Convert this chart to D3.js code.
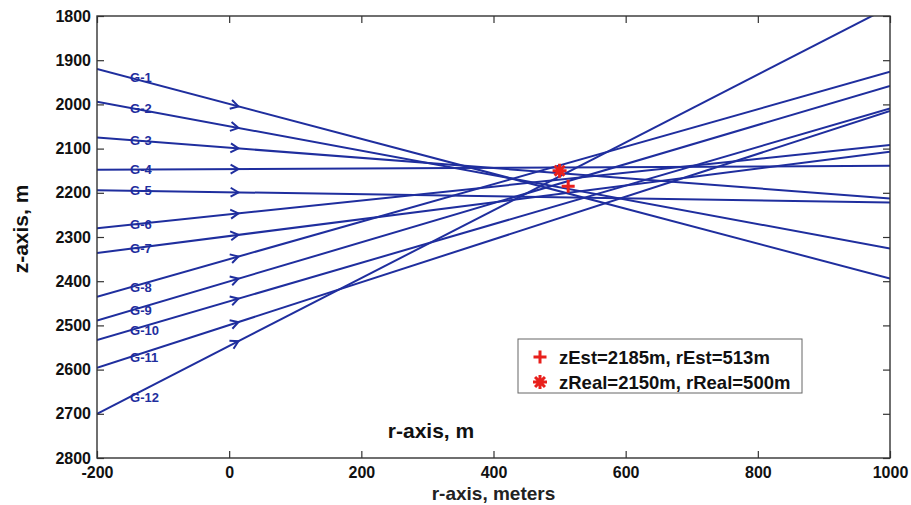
<!DOCTYPE html>
<html>
<head>
<meta charset="utf-8">
<script src="https://cdn.jsdelivr.net/npm/d3@7"></script>
<style>
  body { margin: 0; background: #fff; }
  text { font-family: Arial, "Liberation Sans", sans-serif; }
</style>
</head>
<body>
<svg id="chart" width="911" height="505"></svg>
<script>
"use strict";

// plot box in pixels
const boxLeft = 97, boxRight = 890, boxTop = 16, boxBottom = 458;

// ray data, z (m) where each ray enters at r=-200 and leaves at r=1000
const groupLabels = ["G-1", "G-2", "G-3", "G-4", "G-5", "G-6", "G-7", "G-8", "G-9", "G-10", "G-11", "G-12"];
const zAtStart = [1920, 1994, 2075, 2148, 2194, 2280, 2336, 2435, 2489, 2533, 2596, 2700];
const zAtEnd = [2394, 2326, 2213, 2139, 2222, 2092, 2107, 1926, 1958, 2009, 2015, 1779];
const rStart = -200, rEnd = 1000;
const rLabel = -150;   // where the G-n labels sit
const rArrow = 14;     // arrow tip position

const rTicks = [-200, 0, 200, 400, 600, 800, 1000];
const zTicks = [1800, 1900, 2000, 2100, 2200, 2300, 2400, 2500, 2600, 2700, 2800];

const estPoint = { r: 513, z: 2185 };
const realPoint = { r: 500, z: 2150 };
const legendLabels = ["zEst=2185m, rEst=513m", "zReal=2150m, rReal=500m"];

const blue = "#1f2e9e";
const red = "#e8201c";

const svg = d3.select("#chart");

const xScale = d3.scaleLinear().domain([-200, 1000]).range([boxLeft, boxRight]);
const yScale = d3.scaleLinear().domain([1800, 2800]).range([boxTop, boxBottom]);

svg.append("defs").append("clipPath").attr("id", "plotClip")
    .append("rect")
    .attr("x", boxLeft).attr("y", boxTop)
    .attr("width", boxRight - boxLeft).attr("height", boxBottom - boxTop);

const rays = groupLabels.map((g, i) => ({ label: g, z0: zAtStart[i], z1: zAtEnd[i] }));
function zAt(ray, r) {
    return ray.z0 + (ray.z1 - ray.z0) * (r - rStart) / (rEnd - rStart);
}

const plot = svg.append("g").attr("clip-path", "url(#plotClip)");
const line = d3.line();

plot.selectAll("path.ray")
    .data(rays)
    .join("path")
    .attr("class", "ray")
    .attr("d", d => line([[xScale(rStart), yScale(d.z0)], [xScale(rEnd), yScale(d.z1)]]))
    .attr("fill", "none")
    .attr("stroke", blue)
    .attr("stroke-width", 2);

// little open arrow heads near r=0
plot.selectAll("path.arrow")
    .data(rays)
    .join("path")
    .attr("class", "arrow")
    .attr("d", d => {
        let ang = Math.atan2(yScale(d.z1) - yScale(d.z0), xScale(rEnd) - xScale(rStart));
        let tx = xScale(rArrow), ty = yScale(zAt(d, rArrow));
        let len = 9, spread = Math.PI / 6;
        let a = [tx - len * Math.cos(ang - spread), ty - len * Math.sin(ang - spread)];
        let b = [tx - len * Math.cos(ang + spread), ty - len * Math.sin(ang + spread)];
        return line([a, [tx, ty], b]);
    })
    .attr("fill", "none")
    .attr("stroke", blue)
    .attr("stroke-width", 2);

plot.selectAll("text.glabel")
    .data(rays)
    .join("text")
    .attr("class", "glabel")
    .attr("x", xScale(rLabel))
    .attr("y", d => yScale(zAt(d, rLabel)))
    .attr("dy", "0.36em")
    .attr("fill", blue)
    .attr("font-size", 13)
    .attr("font-weight", "bold")
    .text(d => d.label);

// markers
function plusPath(cx, cy, s) {
    return `M${cx - s},${cy}L${cx + s},${cy}M${cx},${cy - s}L${cx},${cy + s}`;
}
function starPath(cx, cy, s) {
    let p = "";
    for (let k = 0; k < 4; k++) {
        let a = k * Math.PI / 4;
        p += `M${cx - s * Math.cos(a)},${cy - s * Math.sin(a)}L${cx + s * Math.cos(a)},${cy + s * Math.sin(a)}`;
    }
    return p;
}

svg.append("path")
    .attr("d", plusPath(xScale(estPoint.r), yScale(estPoint.z), 6.5))
    .attr("stroke", red).attr("stroke-width", 3).attr("fill", "none");
svg.append("path")
    .attr("d", starPath(xScale(realPoint.r), yScale(realPoint.z), 7))
    .attr("stroke", red).attr("stroke-width", 3).attr("fill", "none");

// axes, ticks inside the box on all four sides
const axisColor = "#333";
const plainNum = d => String(d);   // keep the ascii hyphen for -200
const gx = svg.append("g").attr("transform", `translate(0,${boxBottom})`)
    .call(d3.axisBottom(xScale).tickValues(rTicks).tickSize(-7).tickPadding(9).tickFormat(plainNum));
const gy = svg.append("g").attr("transform", `translate(${boxLeft},0)`)
    .call(d3.axisLeft(yScale).tickValues(zTicks).tickSize(-7).tickPadding(6).tickFormat(plainNum));
const gxTop = svg.append("g").attr("transform", `translate(0,${boxTop})`)
    .call(d3.axisTop(xScale).tickValues(rTicks).tickSize(-7).tickFormat(""));
const gyRight = svg.append("g").attr("transform", `translate(${boxRight},0)`)
    .call(d3.axisRight(yScale).tickValues(zTicks).tickSize(-7).tickFormat(""));

[gx, gy, gxTop, gyRight].forEach(g => {
    g.select(".domain").remove();
    g.selectAll("line").attr("stroke", axisColor).attr("stroke-width", 1.2);
    g.selectAll("text")
        .attr("fill", "#111")
        .attr("font-size", 16)
        .attr("font-weight", "bold")
        .style("font-family", "Arial, 'Liberation Sans', sans-serif");
});

svg.append("rect")
    .attr("x", boxLeft).attr("y", boxTop)
    .attr("width", boxRight - boxLeft).attr("height", boxBottom - boxTop)
    .attr("fill", "none")
    .attr("stroke", axisColor)
    .attr("stroke-width", 1.4);

// axis titles
svg.append("text")
    .attr("x", 431).attr("y", 438)
    .attr("text-anchor", "middle")
    .attr("font-size", 21).attr("font-weight", "bold")
    .attr("fill", "#111")
    .text("r-axis, m");
svg.append("text")
    .attr("x", (boxLeft + boxRight) / 2).attr("y", 500)
    .attr("text-anchor", "middle")
    .attr("font-size", 19).attr("font-weight", "bold")
    .attr("fill", "#222")
    .text("r-axis, meters");
svg.append("text")
    .attr("transform", "translate(28,229) rotate(-90)")
    .attr("text-anchor", "middle")
    .attr("font-size", 21).attr("font-weight", "bold")
    .attr("fill", "#111")
    .text("z-axis, m");

// legend
const legend = svg.append("g");
legend.append("rect")
    .attr("x", 518).attr("y", 339)
    .attr("width", 284).attr("height", 54)
    .attr("fill", "#fff")
    .attr("stroke", "#666")
    .attr("stroke-width", 1);
const rowY = [357, 382];
legend.append("path").attr("d", plusPath(540, rowY[0], 6.5))
    .attr("stroke", red).attr("stroke-width", 3).attr("fill", "none");
legend.append("path").attr("d", starPath(540, rowY[1], 7))
    .attr("stroke", red).attr("stroke-width", 3).attr("fill", "none");
legend.selectAll("text")
    .data(legendLabels)
    .join("text")
    .attr("x", 559)
    .attr("y", (d, i) => rowY[i])
    .attr("dy", "0.36em")
    .attr("font-size", 18.5).attr("font-weight", "bold")
    .attr("fill", "#111")
    .text(d => d);
</script>
</body>
</html>
